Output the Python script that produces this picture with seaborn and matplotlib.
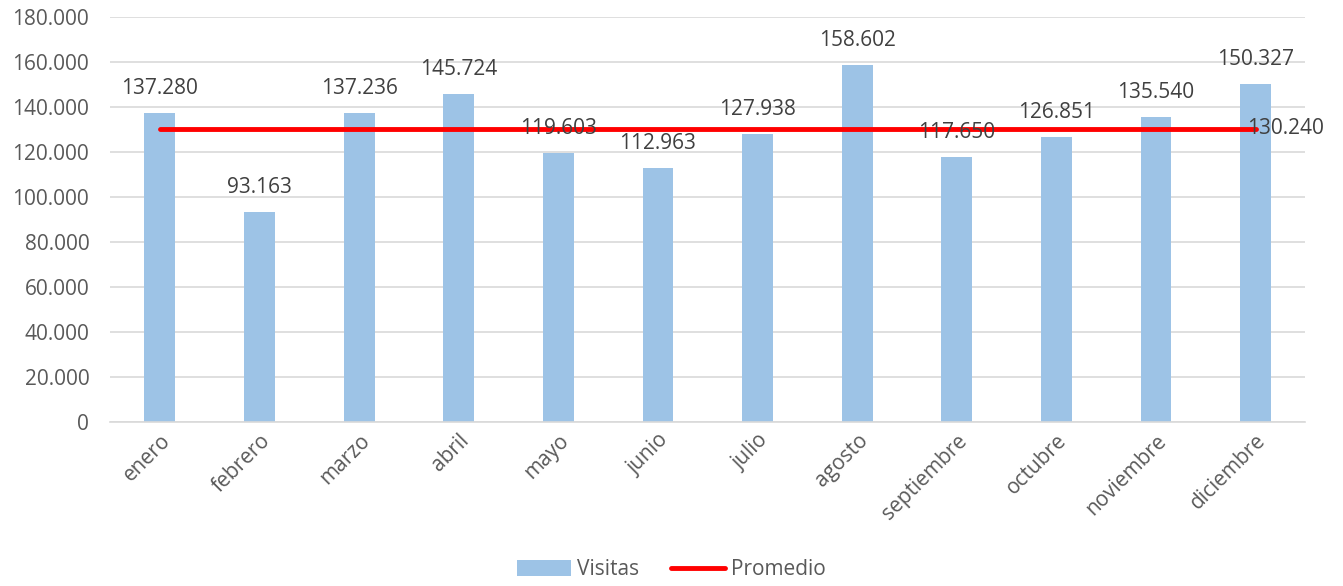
import matplotlib
matplotlib.use('Agg')
import matplotlib.pyplot as plt
import seaborn as sns
import pandas as pd
from matplotlib.ticker import FuncFormatter
from matplotlib.patches import Patch
from matplotlib.lines import Line2D

meses = ['enero', 'febrero', 'marzo', 'abril', 'mayo', 'junio', 'julio',
         'agosto', 'septiembre', 'octubre', 'noviembre', 'diciembre']
visitas = [137280, 93163, 137236, 145724, 119603, 112963, 127938,
           158602, 117650, 126851, 135540, 150327]
promedio = [130240] * 12

BAR = '#9DC3E6'
GRIS = '#595959'
FS = 15


def fmt(v, pos=None):
    return f'{int(round(v)):,}'.replace(',', '.')


sns.set_style('white')
plt.rcParams['font.family'] = ['Open Sans', 'DejaVu Sans']

df = pd.DataFrame({'mes': meses, 'visitas': visitas, 'promedio': promedio})

fig = plt.figure(figsize=(13.43, 5.86), dpi=100)
ax = fig.add_axes([0.082, 0.280, 0.890, 0.691])

sns.barplot(data=df, x='mes', y='visitas', color=BAR, width=0.31,
            saturation=1, linewidth=0, ax=ax, zorder=2)
sns.lineplot(data=df, x='mes', y='promedio', color='#FF0000', linewidth=3.5,
             ax=ax, zorder=3, sort=False)

ax.set_ylim(0, 180000)
ax.set_yticks(range(0, 180001, 20000))
ax.yaxis.set_major_formatter(FuncFormatter(fmt))
ax.set_xlim(-0.5, 11.5)
ax.grid(axis='y', color='#D9D9D9', linewidth=1.2, zorder=0)
ax.set_axisbelow(True)
for s in ['top', 'right', 'left']:
    ax.spines[s].set_visible(False)
ax.spines['bottom'].set_color('#D9D9D9')
ax.spines['bottom'].set_linewidth(1.2)
ax.set_xlabel('')
ax.set_ylabel('')
ax.tick_params(axis='both', length=0, colors=GRIS, labelsize=FS)
ax.tick_params(axis='y', pad=15)
ax.tick_params(axis='x', pad=6)
plt.setp(ax.get_xticklabels(), rotation=45, ha='right', rotation_mode='anchor')

# etiquetas de datos encima de cada barra
for i, v in enumerate(visitas):
    ax.annotate(fmt(v), (i, v), xytext=(0, 10), textcoords='offset points',
                ha='center', va='bottom', color='#404040', fontsize=FS, zorder=4)

ax.annotate(fmt(promedio[-1]), (11, promedio[-1]), xytext=(-6, 0),
            textcoords='offset points', ha='left', va='center',
            color='#404040', fontsize=FS, zorder=4, annotation_clip=False)

handles = [Patch(facecolor=BAR, edgecolor='none'),
           Line2D([0], [0], color='#FF0000', linewidth=3.5)]
fig.legend(handles, ['Visitas', 'Promedio'], loc='lower center',
           bbox_to_anchor=(0.5, -0.022), ncol=2, frameon=False,
           fontsize=FS, labelcolor=GRIS, handlelength=2.6,
           handleheight=0.8, columnspacing=1.5, handletextpad=0.3)

fig.savefig('out.png', dpi=100)
